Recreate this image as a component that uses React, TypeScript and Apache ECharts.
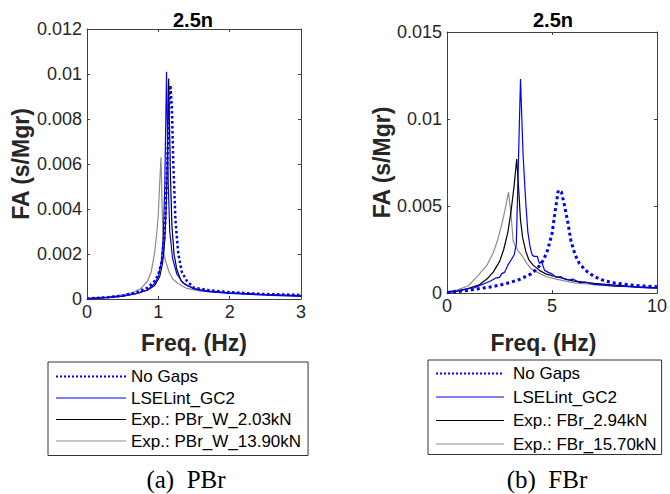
import React, { useEffect, useRef } from "react";
import * as echarts from "echarts";

// ---------- data (x in Hz, y in s/Mgr) ----------
const pbrNoGaps: [number, number][] = [
  [0, 0.00002], [0.3, 0.00008], [0.5, 0.00015], [0.7, 0.0003], [0.85, 0.0005], [0.95, 0.0008],
  [1.0, 0.0011], [1.05, 0.0017], [1.09, 0.003], [1.12, 0.0055], [1.15, 0.0085], [1.17, 0.0095],
  [1.19, 0.0085], [1.21, 0.006], [1.24, 0.0035], [1.28, 0.002], [1.33, 0.0012], [1.4, 0.0008],
  [1.5, 0.0005], [1.7, 0.0004], [2.0, 0.0003], [2.5, 0.00022], [3.0, 0.00018],
];
const pbrLSELint: [number, number][] = [
  [0, 0.00001], [0.3, 0.00006], [0.5, 0.00013], [0.7, 0.00025], [0.85, 0.0004], [0.95, 0.0007],
  [1.0, 0.001], [1.04, 0.0016], [1.07, 0.0028], [1.09, 0.005], [1.105, 0.008], [1.115, 0.0101],
  [1.125, 0.008], [1.14, 0.005], [1.16, 0.003], [1.2, 0.0018], [1.26, 0.0011], [1.35, 0.0007],
  [1.5, 0.00045], [1.7, 0.00033], [2.0, 0.00025], [2.5, 0.00017], [3.0, 0.00012],
];
const pbrExp203: [number, number][] = [
  [0, 0.00002], [0.3, 0.00007], [0.5, 0.00013], [0.7, 0.00025], [0.85, 0.0004], [0.95, 0.0006],
  [1.02, 0.001], [1.06, 0.0016], [1.09, 0.0026], [1.11, 0.004], [1.125, 0.006], [1.135, 0.008],
  [1.145, 0.0098], [1.155, 0.008], [1.17, 0.0055], [1.19, 0.0033], [1.22, 0.002], [1.26, 0.0013],
  [1.32, 0.0008], [1.4, 0.0006], [1.55, 0.00042], [1.7, 0.00035], [2.0, 0.00027], [2.5, 0.0002],
  [3.0, 0.00014],
];
const pbrExp1390: [number, number][] = [
  [0, 0.00003], [0.3, 0.0001], [0.5, 0.00018], [0.65, 0.0003], [0.75, 0.00045], [0.85, 0.0008],
  [0.9, 0.0012], [0.95, 0.0021], [0.98, 0.003], [1.0, 0.0038], [1.02, 0.0052], [1.037, 0.0063],
  [1.05, 0.0045], [1.065, 0.0028], [1.08, 0.002], [1.1, 0.0017], [1.12, 0.0015], [1.15, 0.0012],
  [1.2, 0.0009], [1.27, 0.0007], [1.4, 0.00047], [1.6, 0.00035], [2.0, 0.00027], [2.5, 0.0002],
  [3.0, 0.00016],
];

const fbrNoGaps: [number, number][] = [
  [0, 0.00002], [0.5, 0.00008], [1.0, 0.00015], [1.5, 0.00025], [2.0, 0.00033], [2.5, 0.00045],
  [3.0, 0.0006], [3.5, 0.0008], [4.0, 0.0011], [4.3, 0.0014], [4.6, 0.0019], [4.8, 0.0025],
  [5.0, 0.0034], [5.15, 0.0047], [5.3, 0.0059], [5.45, 0.0058], [5.6, 0.005], [5.75, 0.0041],
  [5.9, 0.003], [6.1, 0.0022], [6.3, 0.0017], [6.6, 0.0013], [7.0, 0.00095], [7.5, 0.0007],
  [8.0, 0.00057], [9.0, 0.00043], [10, 0.00036],
];
const fbrLSELint: [number, number][] = [
  [0, 0.00002], [0.5, 0.0001], [1.0, 0.00025], [1.3, 0.0003], [1.6, 0.00045], [1.9, 0.0006],
  [2.1, 0.0007], [2.3, 0.00085], [2.5, 0.0009], [2.6, 0.0011], [2.75, 0.0012], [2.9, 0.0016],
  [3.05, 0.0019], [3.2, 0.0022], [3.3, 0.0028], [3.4, 0.0075], [3.5, 0.0123], [3.62, 0.008],
  [3.74, 0.0054], [3.85, 0.0035], [3.95, 0.0027], [4.05, 0.0022], [4.15, 0.0021], [4.3, 0.0021],
  [4.4, 0.0017], [4.5, 0.0018], [4.65, 0.0013], [4.8, 0.0012], [5.0, 0.0011], [5.2, 0.0009],
  [5.4, 0.00095], [5.6, 0.0008], [5.8, 0.00075], [6.0, 0.0008], [6.3, 0.0006], [6.6, 0.00063],
  [7.0, 0.0005], [7.5, 0.00045], [8.0, 0.0004], [8.5, 0.00038], [9.0, 0.00033], [9.5, 0.0003],
  [10, 0.00028],
];
const fbrExp294: [number, number][] = [
  [0, 0.00005], [0.5, 0.00012], [1.0, 0.00025], [1.5, 0.00045], [1.9, 0.0008], [2.2, 0.0012],
  [2.5, 0.0018], [2.7, 0.0025], [2.9, 0.0035], [3.05, 0.0047], [3.2, 0.0062], [3.32, 0.0077],
  [3.42, 0.0058], [3.5, 0.0042], [3.6, 0.0032], [3.75, 0.0024], [3.9, 0.0019], [4.1, 0.0016],
  [4.4, 0.0013], [4.7, 0.0011], [5.0, 0.001], [5.5, 0.00085], [6.0, 0.0007], [6.5, 0.00062],
  [7.0, 0.00055], [8.0, 0.00045], [9.0, 0.00035], [10, 0.0003],
];
const fbrExp1570: [number, number][] = [
  [0, 0.00008], [0.5, 0.00018], [1.0, 0.0004], [1.4, 0.0009], [1.9, 0.0016], [2.2, 0.0023],
  [2.4, 0.003], [2.6, 0.0039], [2.75, 0.0047], [2.93, 0.0058], [3.05, 0.0045], [3.15, 0.003],
  [3.25, 0.0027], [3.4, 0.0024], [3.6, 0.0021], [3.8, 0.0017], [4.0, 0.0014], [4.3, 0.0012],
  [4.7, 0.00095], [5.2, 0.0008], [6.0, 0.0006], [7.0, 0.00048], [8.0, 0.0004], [9.0, 0.00035],
  [10, 0.0003],
];

const leftLegendNames = ["No Gaps", "LSELint_GC2", "Exp.: PBr_W_2.03kN", "Exp.: PBr_W_13.90kN"];
const rightLegendNames = ["No Gaps", "LSELint_GC2", "Exp.: FBr_2.94kN", "Exp.: FBr_15.70kN"];
const panelTitles = ["2.5n", "2.5n"];
const captions = ["(a)  PBr", "(b)  FBr"];
const xName = "Freq. (Hz)";
const yName = "FA (s/Mgr)";

const BLUE = "#0000ff";
const BLACK = "#000000";
const GRAY = "#8c8c8c";
const AXIS = "#404040";
const LABEL = "#262626";
const SANS = "'Liberation Sans', Arial, sans-serif";
const SERIF = "'Liberation Serif', 'Times New Roman', serif";

function mkAxes(
  kind: "x" | "y",
  gridIndex: number,
  min: number,
  max: number,
  interval: number,
  opts: any
) {
  const common = {
    type: "value",
    gridIndex,
    min,
    max,
    interval,
    splitLine: { show: false },
    axisLine: { show: true, onZero: false, lineStyle: { color: AXIS, width: 1 } },
    axisTick: { show: true, inside: true, length: 3, lineStyle: { color: AXIS } },
  };
  const main = {
    ...common,
    position: kind === "x" ? "bottom" : "left",
    axisLabel: {
      show: true,
      color: LABEL,
      fontSize: 18,
      fontFamily: SANS,
      margin: kind === "x" ? 4 : 5,
    },
    ...opts,
  };
  const mirror = {
    ...common,
    position: kind === "x" ? "top" : "right",
    axisLabel: { show: false },
  };
  return [main, mirror];
}

export default function App() {
  const ref = useRef<HTMLDivElement>(null);
  useEffect(() => {
    if (!ref.current) return;
    const chart = echarts.init(ref.current, undefined, { renderer: "svg" });
    const nameStyle = { fontSize: 23, fontWeight: "bold", color: LABEL, fontFamily: SANS };
    const xAxes = [
      ...mkAxes("x", 0, 0, 3, 1, {
        name: xName,
        nameLocation: "middle",
        nameGap: 32,
        nameTextStyle: nameStyle,
      }),
      ...mkAxes("x", 1, 0, 10, 5, {
        name: xName,
        nameLocation: "middle",
        nameGap: 38,
        nameTextStyle: { ...nameStyle, padding: [0, 17, 0, 0] },
      }),
    ];
    const yAxes = [
      ...mkAxes("y", 0, 0, 0.012, 0.002, {
        name: yName,
        nameLocation: "middle",
        nameGap: 55,
        nameTextStyle: nameStyle,
      }),
      ...mkAxes("y", 1, 0, 0.015, 0.005, {
        name: yName,
        nameLocation: "middle",
        nameGap: 52,
        nameTextStyle: nameStyle,
      }),
    ];
    const line = (
      name: string,
      data: [number, number][],
      color: string,
      width: number,
      panel: number,
      type: any = "solid"
    ) => ({
      type: "line",
      name,
      data,
      xAxisIndex: panel * 2,
      yAxisIndex: panel * 2,
      showSymbol: false,
      symbol: "none",
      smooth: false,
      lineStyle: { color, width, type },
      itemStyle: { color },
      z: 2,
    });
    const legendBase = {
      orient: "vertical",
      itemWidth: 70,
      itemHeight: 14,
      borderColor: "#333333",
      borderWidth: 1,
      borderRadius: 0,
      backgroundColor: "#ffffff",
      selectedMode: false,
      itemStyle: { opacity: 0, borderWidth: 0 },
      textStyle: { fontSize: 17, color: "#000000", fontFamily: SANS },
    };
    const hidden = { opacity: 0, color: "rgba(0,0,0,0)", borderWidth: 0 };
    const legendData = (names: string[]) => [
      { name: names[0], itemStyle: hidden, lineStyle: { color: BLUE, width: 2, type: [2, 2] } },
      { name: names[1], itemStyle: hidden, lineStyle: { color: BLUE, width: 1.2, type: "solid" } },
      { name: names[2], itemStyle: hidden, lineStyle: { color: BLACK, width: 1.2, type: "solid" } },
      { name: names[3], itemStyle: hidden, lineStyle: { color: GRAY, width: 1.2, type: "solid" } },
    ];
    chart.setOption({
      animation: false,
      backgroundColor: "#ffffff",
      grid: [
        { left: 87, top: 29, width: 214, height: 270, containLabel: false },
        { left: 447, top: 32, width: 213, height: 261, containLabel: false },
      ],
      xAxis: xAxes,
      yAxis: yAxes,
      legend: [
        {
          ...legendBase,
          left: 48,
          top: 362,
          padding: [6, 7, 6, 7],
          itemGap: 4.5,
          data: legendData(leftLegendNames),
        },
        {
          ...legendBase,
          left: 428,
          top: 360,
          padding: [5, 5, 2, 7],
          itemGap: 6.5,
          itemWidth: 68,
          textStyle: { ...legendBase.textStyle, padding: [0, 0, 0, 4] },
          data: legendData(rightLegendNames),
        },
      ],
      series: [
        line(leftLegendNames[3], pbrExp1390, GRAY, 1.2, 0),
        line(leftLegendNames[2], pbrExp203, BLACK, 1.2, 0),
        line(leftLegendNames[1], pbrLSELint, BLUE, 1.2, 0),
        line(leftLegendNames[0], pbrNoGaps, BLUE, 2.5, 0, [2.5, 2.5]),
        line(rightLegendNames[3], fbrExp1570, GRAY, 1.2, 1),
        line(rightLegendNames[2], fbrExp294, BLACK, 1.2, 1),
        line(rightLegendNames[1], fbrLSELint, BLUE, 1.2, 1),
        line(rightLegendNames[0], fbrNoGaps, BLUE, 3, 1, [3, 3]),
      ],
      graphic: [
        {
          type: "text",
          x: 193,
          y: 20,
          style: {
            text: panelTitles[0],
            fontSize: 20,
            fontWeight: "bold",
            fontFamily: SANS,
            fill: "#000",
            align: "center",
            verticalAlign: "middle",
          },
        },
        {
          type: "text",
          x: 553,
          y: 20,
          style: {
            text: panelTitles[1],
            fontSize: 20,
            fontWeight: "bold",
            fontFamily: SANS,
            fill: "#000",
            align: "center",
            verticalAlign: "middle",
          },
        },
        {
          type: "text",
          x: 186,
          y: 479,
          style: {
            text: captions[0],
            fontSize: 25,
            fontFamily: SERIF,
            fill: "#000",
            align: "center",
            verticalAlign: "middle",
          },
        },
        {
          type: "text",
          x: 547,
          y: 479,
          style: {
            text: captions[1],
            fontSize: 25,
            fontFamily: SERIF,
            fill: "#000",
            align: "center",
            verticalAlign: "middle",
          },
        },
      ],
    });
    return () => chart.dispose();
  }, []);
  return (
    <div
      ref={ref}
      style={{ position: "fixed", left: 0, top: 0, width: 670, height: 494, background: "#fff" }}
    />
  );
}
